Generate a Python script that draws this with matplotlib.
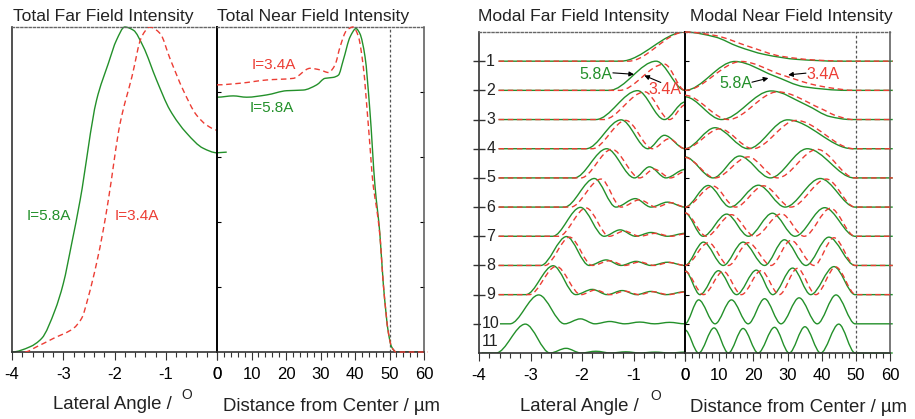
import numpy as np
import matplotlib
matplotlib.use("Agg")
import matplotlib.pyplot as plt
from matplotlib.path import Path
from matplotlib.patches import PathPatch
from matplotlib.ticker import MultipleLocator

plt.rcParams['font.family'] = ['Liberation Sans', 'DejaVu Sans']
plt.rcParams['axes.unicode_minus'] = False

GREEN = '#23902a'
RED = '#ec3d34'
DASH = (0, (4, 2.6))

# ---- total far field (lateral angle, normalised intensity)
ff58_x = [-4.0, -3.65, -3.42, -3.16, -3.0, -2.835, -2.67, -2.35, -2.12, -1.96, -1.80,
          -1.63, -1.44, -1.18, -0.92, -0.59, -0.27, 0.0, 0.19]
ff58_y = [0.0, 0.016, 0.042, 0.129, 0.21, 0.334, 0.468, 0.775, 0.888, 0.96, 1.0,
          0.99, 0.94, 0.837, 0.745, 0.673, 0.627, 0.613, 0.615]
ff34_x = [-3.75, -3.52, -3.19, -2.80, -2.64, -2.51, -2.35, -2.22, -2.12, -1.89, -1.66,
          -1.47, -1.31, -1.11, -0.92, -0.66, -0.40, -0.20, 0.0]
ff34_y = [0.0, 0.016, 0.042, 0.073, 0.104, 0.17, 0.273, 0.375, 0.468, 0.704, 0.847,
          0.97, 1.0, 0.98, 0.904, 0.806, 0.729, 0.698, 0.683]

# ---- total near field (distance / um, normalised intensity)
nf58_x = [0, 4.7, 8.6, 14.4, 20.2, 25, 28.9, 31.3, 33.7, 35.2, 36.6, 38.6, 40.3, 41.4,
          42.9, 44.3, 45.8, 47.2, 48.2, 49.7, 50.6, 52, 60]
nf58_y = [0.784, 0.788, 0.784, 0.791, 0.804, 0.806, 0.822, 0.842, 0.845, 0.852, 0.898,
          0.97, 0.995, 0.98, 0.909, 0.745, 0.51, 0.365, 0.21, 0.058, 0.016, 0.0, 0.0]
nf34_x = [0, 6.7, 14.4, 22.1, 27, 29.9, 32.3, 34.2, 35.7, 37.6, 39.5, 41, 42.4, 43.9,
          45.3, 46.3, 47.2, 48.2, 49.7, 50.6, 52, 61]
nf34_y = [0.822, 0.827, 0.837, 0.842, 0.873, 0.868, 0.86, 0.883, 0.94, 0.99, 1.0, 0.97,
          0.878, 0.693, 0.51, 0.44, 0.36, 0.21, 0.058, 0.016, 0.0, 0.0]

# ---- modal far field, modes 1..11 (amplitude above each mode's baseline)
mff58_x = [
    [-3.62, -1.25, 0.0],
    [-3.62, -1.47, -0.56, 0.0],
    [-3.62, -1.73, -0.92, -0.40, 0.0],
    [-3.62, -1.92, -1.24, -0.72, -0.40, 0.0],
    [-3.62, -2.15, -1.52, -0.98, -0.69, -0.37, 0.0],
    [-3.62, -2.34, -1.76, -1.34, -0.965, -0.66, -0.34, 0.0],
    [-3.62, -2.57, -2.03, -1.57, -1.26, -0.96, -0.66, -0.34, 0.0],
    [-3.62, -2.80, -2.30, -1.86, -1.53, -1.24, -0.95, -0.66, -0.34, 0.0],
    [-3.62, -3.09, -2.56, -2.12, -1.80, -1.51, -1.22, -0.94, -0.66, -0.37, 0.0],
    [-3.62, -3.40, -2.84, -2.34, -2.03, -1.75, -1.46, -1.17, -0.88, -0.59, -0.30, 0.0],
    [-3.95, -3.67, -3.10, -2.62, -2.31, -2.02, -1.73, -1.44, -1.15, -0.87, -0.58, -0.29, 0.0],
]
mff58_y = [
    [0, 0, 1.0],
    [0, 0, 1.0, 0],
    [0, 0, 0.99, 0, 0.6],
    [0, 0, 0.99, 0, 0.46, 0],
    [0, 0, 1.0, 0, 0.38, 0, 0.29],
    [0, 0, 0.98, 0, 0.29, 0, 0.17, 0],
    [0, 0, 0.99, 0, 0.22, 0, 0.13, 0, 0.1],
    [0, 0, 0.99, 0, 0.19, 0, 0.14, 0, 0.11, 0],
    [0, 0, 0.99, 0, 0.18, 0, 0.14, 0, 0.11, 0, 0.1],
    [0, 0, 0.99, 0, 0.17, 0, 0.08, 0, 0.06, 0, 0.05, 0],
    [0, 0, 0.99, 0, 0.16, 0, 0.06, 0, 0.04, 0, 0.03, 0, 0.03],
]
mff34_x = [
    [-3.62, -1.10, 0.0],
    [-3.62, -1.27, -0.40, 0.0],
    [-3.62, -1.58, -0.78, -0.30, 0.0],
    [-3.62, -1.80, -1.15, -0.63, -0.31, 0.0],
    [-3.62, -2.02, -1.42, -0.88, -0.60, -0.28, 0.0],
    [-3.62, -2.22, -1.63, -1.24, -0.88, -0.56, -0.27, 0.0],
    [-3.62, -2.45, -1.92, -1.47, -1.18, -0.88, -0.58, -0.27, 0.0],
    [-3.62, -2.72, -2.24, -1.80, -1.46, -1.17, -0.88, -0.60, -0.30, 0.0],
    [-3.62, -3.02, -2.50, -2.02, -1.74, -1.45, -1.17, -0.89, -0.62, -0.33, 0.0],
]
mff34_y = [
    [0, 0, 1.0],
    [0, 0, 0.9, 0],
    [0, 0, 0.95, 0, 0.5],
    [0, 0, 0.97, 0, 0.34, 0],
    [0, 0, 0.98, 0, 0.3, 0, 0.22],
    [0, 0, 0.96, 0, 0.25, 0, 0.15, 0],
    [0, 0, 0.97, 0, 0.18, 0, 0.1, 0, 0.08],
    [0, 0, 0.97, 0, 0.16, 0, 0.12, 0, 0.1, 0],
    [0, 0, 0.97, 0, 0.16, 0, 0.12, 0, 0.1, 0, 0.09],
]

# ---- modal near field, modes 1..11
mnf58_x = [
    [0, 8.8, 15.6, 23.3, 33, 45, 60.8],
    [0, 14.6, 26, 35, 47.5, 60.8],
    [0, 10.7, 25.2, 35.5, 42.5, 48.5, 60.8],
    [0, 8.8, 18.5, 30.0, 49.0, 60.8],
    [0, 8.2, 16.0, 25.0, 35.8, 49.5, 60.8],
    [0, 6.8, 13.2, 21.5, 29.3, 39.6, 49.8, 60.8],
    [0, 5.3, 12.2, 18.6, 25.6, 32.2, 40.9, 49.8, 60.8],
    [0, 5.4, 11.2, 17.0, 23.3, 29.1, 35.4, 42.1, 49.8, 60.8],
    [0, 4.4, 9.8, 15.1, 20.9, 25.7, 31.5, 36.8, 43.6, 49.8, 60.8],
    [0, 4.0, 8.8, 13.6, 18.5, 23.3, 28.1, 33.4, 38.7, 44.2, 49.8, 60.8],
    [0, 4.0, 8.5, 12.7, 17.0, 21.4, 26.2, 30.5, 35.1, 39.7, 45.0, 49.8, 60.8],
]
mnf58_y = [
    [1.0, 0.83, 0.5, 0.23, 0.06, 0, 0],
    [0, 0.99, 0.5, 0.12, 0, 0],
    [0.78, 0, 0.98, 0.5, 0.1, 0, 0],
    [0, 0.72, 0, 0.99, 0, 0],
    [0.72, 0, 0.75, 0, 1.0, 0, 0],
    [0, 0.74, 0, 0.75, 0, 0.98, 0, 0],
    [0.8, 0, 0.76, 0, 0.79, 0, 0.98, 0, 0],
    [0, 0.8, 0, 0.8, 0, 0.88, 0, 0.97, 0, 0],
    [0.82, 0, 0.82, 0, 0.84, 0, 0.91, 0, 0.96, 0, 0],
    [0, 0.82, 0, 0.82, 0, 0.86, 0, 0.89, 0, 0.99, 0, 0],
    [0.79, 0, 0.86, 0, 0.84, 0, 0.88, 0, 0.9, 0, 0.99, 0, 0],
]
mnf34_x = [
    [0, 8.8, 18.5, 28.1, 38, 47.8, 60.8],
    [0, 16.5, 28.1, 37.8, 43.5, 49.2, 60.8],
    [0, 12.7, 27.1, 39.7, 44.5, 49.3, 60.8],
    [0, 10.2, 19.9, 32.5, 49.5, 60.8],
    [0, 8.8, 18.5, 27.1, 38.7, 49.7, 60.8],
    [0, 8.2, 14.8, 23.0, 31.0, 41.4, 49.8, 60.8],
    [0, 6.3, 13.6, 20.4, 28.2, 34.9, 42.6, 49.8, 60.8],
    [0, 6.9, 12.7, 18.5, 25.2, 31.0, 37.8, 43.6, 49.8, 60.8],
    [0, 5.4, 11.2, 16.5, 22.3, 27.6, 32.9, 38.3, 44.1, 50.0, 60.8],
]
mnf34_y = [
    [1.0, 0.88, 0.51, 0.17, 0.04, 0, 0],
    [0, 0.99, 0.54, 0.19, 0.07, 0, 0],
    [0.83, 0, 0.95, 0.38, 0.12, 0, 0],
    [0, 0.68, 0, 0.97, 0, 0],
    [0.7, 0, 0.72, 0, 0.98, 0, 0],
    [0, 0.72, 0, 0.73, 0, 0.96, 0, 0],
    [0.8, 0, 0.74, 0, 0.77, 0, 0.96, 0, 0],
    [0, 0.78, 0, 0.78, 0, 0.86, 0, 0.95, 0, 0],
    [0.8, 0, 0.8, 0, 0.82, 0, 0.9, 0, 0.95, 0, 0],
]
mode_labels = ['1', '2', '3', '4', '5', '6', '7', '8', '9', '10', '11']


def smooth_path(xs, ys):
    # cubic bezier through the read points, monotone (pchip-style) tangents
    x = np.asarray(xs, float)
    y = np.asarray(ys, float)
    h = np.diff(x)
    d = np.diff(y) / h
    m = np.zeros_like(x)
    for i in range(1, len(x) - 1):
        if d[i - 1] * d[i] > 0:
            w1 = 2 * h[i] + h[i - 1]
            w2 = h[i] + 2 * h[i - 1]
            m[i] = (w1 + w2) / (w1 / d[i - 1] + w2 / d[i])
    verts = [(x[0], y[0])]
    for i in range(len(x) - 1):
        verts += [(x[i] + h[i] / 3, y[i] + m[i] * h[i] / 3),
                  (x[i + 1] - h[i] / 3, y[i + 1] - m[i + 1] * h[i] / 3),
                  (x[i + 1], y[i + 1])]
    codes = [Path.MOVETO] + [Path.CURVE4] * (3 * (len(x) - 1))
    return Path(verts, codes)


def draw(ax, xs, ys, color, dashed=False, base=0.0, clip=True):
    path = smooth_path(xs, np.asarray(ys, float) + base)
    ax.add_patch(PathPatch(path, fc='none', ec=color, lw=1.0,
                           ls=DASH if dashed else '-', clip_on=clip,
                           zorder=3 if dashed else 2))


W, H = 915, 419
fig = plt.figure(figsize=(W / 100, H / 100), dpi=100)


def box(x0, x1, y0, y1):
    return [x0 / W, 1 - y1 / H, (x1 - x0) / W, (y1 - y0) / H]


ax1 = fig.add_axes(box(12, 217, 27, 352))
ax2 = fig.add_axes(box(217, 424, 27, 352))
ax3 = fig.add_axes(box(479, 685, 32, 353))
ax4 = fig.add_axes(box(685, 890, 32, 353))

for ax in (ax1, ax3):
    ax.set_xlim(-4, 0)
    ax.xaxis.set_major_locator(MultipleLocator(1))
    ax.xaxis.set_minor_locator(MultipleLocator(0.2))
for ax in (ax2, ax4):
    ax.set_xlim(0, 60)
    ax.xaxis.set_major_locator(MultipleLocator(10))
    ax.xaxis.set_minor_locator(MultipleLocator(2))
    ax.axvline(50, color='#555555', lw=0.9, ls=(0, (2.2, 1.8)), zorder=1)
ax1.set_ylim(0, 1)
ax2.set_ylim(0, 1)
ax3.set_ylim(0, 11)
ax4.set_ylim(0, 11)

for ax in (ax1, ax2, ax3, ax4):
    ax.set_facecolor('none')
    ax.tick_params(axis='x', which='major', direction='out', length=6, width=0.8,
                   labelsize=12, pad=5, color='#333333')
    ax.tick_params(axis='x', which='minor', direction='out', length=3.5, width=0.8,
                   color='#333333')
    ax.spines['top'].set_linestyle((0, (1.5, 1.5)))
    ax.spines['top'].set_color('#666666')
    ax.spines['top'].set_linewidth(1.0)
    ax.spines['bottom'].set_color('#333333')
    ax.spines['bottom'].set_linewidth(1.2)
    ax.spines['left'].set_color('#333333')
    ax.spines['left'].set_linewidth(1.2)
    ax.spines['right'].set_color('#555555')
    ax.spines['right'].set_linewidth(1.1)

for ax in (ax1, ax3):
    ax.spines['right'].set_visible(False)
for ax in (ax2, ax4):
    ax.spines['left'].set_color('black')
    ax.spines['left'].set_linewidth(1.4)

ax1.set_yticks([])
ax2.set_yticks([0.2, 0.4, 0.6, 0.8])
ax2.tick_params(axis='y', left=True, right=True, direction='in', length=3,
                width=0.8, labelleft=False)
levels = [11 - k for k in range(1, 12)]
ax3.set_yticks(levels[:-1])
ax3.tick_params(axis='y', direction='inout', length=9, width=1.0, labelleft=False,
                color='#333333')
ax4.set_yticks(levels[:-1])
ax4.tick_params(axis='y', direction='in', length=3, width=0.8, labelleft=False)

# total far / near field
draw(ax1, ff34_x, ff34_y, RED, dashed=True)
draw(ax1, ff58_x, ff58_y, GREEN, clip=False)
draw(ax2, nf34_x, nf34_y, RED, dashed=True, clip=False)
draw(ax2, nf58_x, nf58_y, GREEN)

ax1.text(-3.28, 0.42, 'I=5.8A', color=GREEN, fontsize=11, ha='center', va='center')
ax1.text(-1.56, 0.42, 'I=3.4A', color=RED, fontsize=11, ha='center', va='center')
ax2.text(16.5, 0.883, 'I=3.4A', color=RED, fontsize=11, ha='center', va='center')
ax2.text(15.9, 0.75, 'I=5.8A', color=GREEN, fontsize=11, ha='center', va='center')

# modal far / near field
for k in range(11):
    base = levels[k]
    draw(ax3, mff58_x[k], mff58_y[k], GREEN, base=base)
    draw(ax4, mnf58_x[k], mnf58_y[k], GREEN, base=base, clip=False)
for k in range(9):
    base = levels[k]
    draw(ax3, mff34_x[k], mff34_y[k], RED, dashed=True, base=base)
    draw(ax4, mnf34_x[k], mnf34_y[k], RED, dashed=True, base=base, clip=False)

for k, lab in enumerate(mode_labels):
    if k < 9:
        ax3.text(-3.86, levels[k], lab, fontsize=11.5, ha='left', va='center',
                 color='#222222')
ax3.text(-3.94, 1.0, '10', fontsize=11.5, ha='left', va='center', color='#222222',
         bbox=dict(fc='white', ec='none', pad=0.5), clip_on=False)
ax3.text(-3.94, 0.38, '11', fontsize=11.5, ha='left', va='center', color='#222222',
         bbox=dict(fc='white', ec='none', pad=0.5), clip_on=False)

arrow = dict(arrowstyle='-|>', color='black', lw=0.8, mutation_scale=7,
             shrinkA=0, shrinkB=0)
ax3.text(-1.73, 9.53, '5.8A', color=GREEN, fontsize=11.5, ha='center', va='center')
ax3.annotate('', xy=(-0.99, 9.55), xytext=(-1.40, 9.6), arrowprops=arrow)
ax3.text(-0.39, 9.02, '3.4A', color=RED, fontsize=11.5, ha='center', va='center')
ax3.annotate('', xy=(-0.79, 9.51), xytext=(-0.47, 9.27), arrowprops=arrow)
ax4.text(14.8, 9.25, '5.8A', color=GREEN, fontsize=11.5, ha='center', va='center')
ax4.annotate('', xy=(24.4, 9.42), xytext=(19.6, 9.28), arrowprops=arrow)
ax4.text(40.4, 9.55, '3.4A', color=RED, fontsize=11.5, ha='center', va='center')
ax4.annotate('', xy=(30.2, 9.53), xytext=(35.4, 9.59), arrowprops=arrow)


def ftext(px, py, s, **kw):
    fig.text(px / W, 1 - py / H, s, va='baseline', ha='left', color='#222222', **kw)


ftext(13, 20.7, 'Total Far Field Intensity', fontsize=12.6)
ftext(217, 20.7, 'Total Near Field Intensity', fontsize=12.6)
ftext(478, 20.7, 'Modal Far Field Intensity', fontsize=12.6)
ftext(690, 20.7, 'Modal Near Field Intensity', fontsize=12.6)

ftext(53, 408.5, 'Lateral Angle / ', fontsize=13.4)
ftext(181, 398.5, 'O', fontsize=10)
ftext(223, 410.5, 'Distance from Center / µm', fontsize=13.4)
ftext(520, 410.5, 'Lateral Angle / ', fontsize=13.4)
ftext(650, 400, 'O', fontsize=10)
ftext(690, 411.5, 'Distance from Center / µm', fontsize=13.4)

fig.savefig('out.png', dpi=100)
